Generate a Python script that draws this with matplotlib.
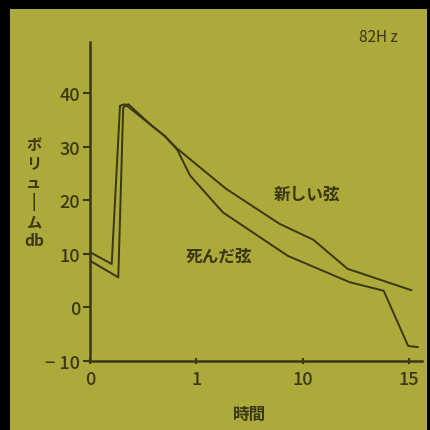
import matplotlib
matplotlib.use("Agg")
import matplotlib.pyplot as plt

plt.rcParams['font.family'] = ['Noto Sans CJK JP', 'DejaVu Sans']

# 新しい弦 (new string)
new_t = [0.0, 1.02, 1.41, 1.64, 2.9, 3.5, 4.1, 6.4, 8.9, 10.5, 12.1, 15.1]
new_db = [10.3, 8.1, 37.6, 37.9, 33.9, 32.0, 29.6, 22.1, 15.6, 12.6, 7.2, 3.2]

# 死んだ弦 (dead string)
dead_t = [0.0, 1.33, 1.56, 1.8, 2.9, 3.5, 4.1, 4.7, 6.25, 9.3, 12.2, 13.8, 14.95, 15.4]
dead_db = [8.7, 5.6, 37.3, 37.9, 33.9, 32.0, 29.4, 24.6, 17.7, 9.6, 4.7, 3.1, -7.2, -7.4]

y_ticks = [-10, 0, 10, 20, 30, 40]
y_labels = ['\u2212 10', '0', '10', '20', '30', '40']
x_ticks = [0, 5, 10, 15]
x_labels = ['0', '1', '10', '15']

bg = '#acaa3a'
ink = '#3a3618'

fig = plt.figure(figsize=(4.30, 4.31), dpi=100, facecolor='black')

# olive panel inside the black frame
bg_ax = fig.add_axes([10 / 430, 0, 417 / 430, 421 / 431])
bg_ax.set_facecolor(bg)
bg_ax.set_xticks([])
bg_ax.set_yticks([])
for s in bg_ax.spines.values():
    s.set_visible(False)

ax = fig.add_axes([90 / 430, 69 / 431, 332 / 430, 319 / 431])
ax.set_facecolor('none')
ax.plot(new_t, new_db, color=ink, lw=1.4)
ax.plot(dead_t, dead_db, color=ink, lw=1.4)

ax.set_xlim(0, 15.6)
ax.set_ylim(-10, 49.5)
for s in ['top', 'right']:
    ax.spines[s].set_visible(False)
for s in ['left', 'bottom']:
    ax.spines[s].set_color(ink)
    ax.spines[s].set_linewidth(1.8)

ax.set_yticks(y_ticks)
ax.set_yticklabels(y_labels)
ax.set_xticks(x_ticks)
ax.set_xticklabels(x_labels)
ax.tick_params(axis='y', direction='out', length=5, width=1.5, color=ink,
               labelcolor=ink, labelsize=13, pad=2)
ax.tick_params(axis='x', direction='inout', length=5, width=1.5, color=ink,
               labelcolor=ink, labelsize=13, pad=4)
for lab in ax.get_xticklabels() + ax.get_yticklabels():
    lab.set_fontweight('medium')

ax.text(10.2, 21.2, '新しい弦', color=ink, fontsize=12, fontweight='bold',
        ha='center', va='center')
ax.text(6.05, 9.6, '死んだ弦', color=ink, fontsize=12, fontweight='bold',
        ha='center', va='center')

fig.text(378 / 430, 1 - 38 / 431, '82H z', color=ink, fontsize=11,
         ha='center', va='center')
fig.text(250 / 430, 1 - 415 / 431, '時間', color=ink, fontsize=12,
         fontweight='bold', ha='center', va='center')
fig.text(34 / 430, 1 - 193 / 431, 'ボ\nリ\nュ\n|\nム\ndb', color=ink,
         fontsize=11, fontweight='bold', ha='center', va='center',
         linespacing=1.2)

fig.savefig('out.png', dpi=100, facecolor='black')
